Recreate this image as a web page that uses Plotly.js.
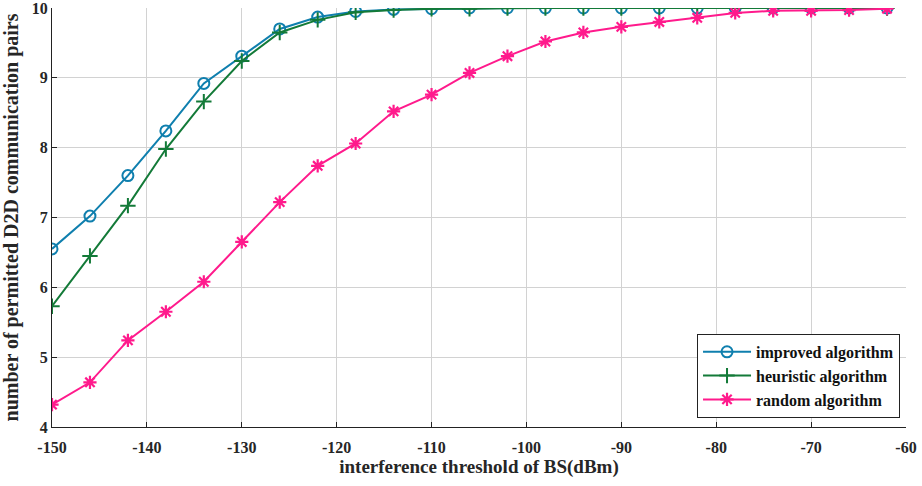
<!DOCTYPE html>
<html>
<head>
<meta charset="utf-8">
<script src="https://cdn.plot.ly/plotly-3.0.1.min.js"></script>
<style>html,body{margin:0;padding:0;background:#fff;}#chart{width:922px;height:486px;}</style>
</head>
<body>
<div id="chart"></div>
<script>
const thresholds = [-150,-146,-142,-138,-134,-130,-126,-122,-118,-114,-110,-106,-102,-98,-94,-90,-86,-82,-78,-74,-70,-66,-62];
const improved  = [6.55,7.02,7.60,8.24,8.92,9.31,9.70,9.87,9.95,9.98,9.99,10.0,10.0,10.0,10.0,10.0,10.0,10.0,10.0,10.0,10.0,10.0,10.0];
const heuristic = [5.73,6.45,7.17,7.98,8.66,9.24,9.65,9.83,9.94,9.97,9.99,9.99,10.0,10.0,10.0,10.0,10.0,10.0,10.0,10.0,10.0,10.0,10.0];
const random    = [4.32,4.64,5.24,5.65,6.08,6.65,7.22,7.74,8.06,8.52,8.76,9.07,9.31,9.52,9.65,9.73,9.80,9.86,9.93,9.96,9.96,9.97,9.99];
const seriesNames = ['improved algorithm','heuristic algorithm','random algorithm'];
const xTickVals = [-150,-140,-130,-120,-110,-100,-90,-80,-70,-60];
const xTickText = ['-150','-140','-130','-120','-110','-100','-90','-80','-70','-60'];
const yTickVals = [4,5,6,7,8,9,10];
const yTickText = ['4','5','6','7','8','9','10'];
const xTitle = 'interference threshold of BS(dBm)';
const yTitle = 'number of permitted D2D communication pairs';

const blue = '#0f7fae', green = '#137a38', pink = '#ff1a8c';
const serif = 'Liberation Serif, Times New Roman, serif';

const traces = [
  {x: thresholds, y: improved, name: seriesNames[0], mode: 'lines+markers',
   line: {color: blue, width: 2},
   marker: {symbol: 'circle-open', size: 11, color: blue, line: {color: blue, width: 2}}},
  {x: thresholds, y: heuristic, name: seriesNames[1], mode: 'lines+markers',
   line: {color: green, width: 2},
   marker: {symbol: 'cross-thin-open', size: 11, color: green, line: {color: green, width: 2}}},
  {x: thresholds, y: random, name: seriesNames[2], mode: 'lines+markers',
   line: {color: pink, width: 2},
   marker: {symbol: 'asterisk-open', size: 11, color: pink, line: {color: pink, width: 2.2}}}
];

const axisCommon = {
  showgrid: true, gridcolor: '#d2d2d2', gridwidth: 1,
  zeroline: false, showline: true, linecolor: '#222', linewidth: 1,
  ticks: 'inside', ticklen: 5, tickcolor: '#222', tickwidth: 1,
  ticklabeloverflow: 'allow', tickmode: 'array',
  tickfont: {family: serif, size: 16, color: '#262626', weight: 'bold'}
};

const layout = {
  width: 922, height: 486,
  margin: {l: 52, r: 16, t: 8, b: 59},
  paper_bgcolor: '#fff', plot_bgcolor: '#fff',
  showlegend: true,
  legend: {
    x: 0.993, y: 0.122, xanchor: 'right', yanchor: 'middle',
    bgcolor: '#fff', bordercolor: '#222', borderwidth: 1,
    font: {family: serif, size: 16, color: '#111', weight: 'bold'},
    tracegroupgap: 0, itemwidth: 48
  },
  xaxis: Object.assign({}, axisCommon, {
    range: [-150, -60], tickvals: xTickVals, ticktext: xTickText,
    ticklabelstandoff: 6,
    title: {text: xTitle, standoff: 2, font: {family: serif, size: 19, color: '#262626', weight: 'bold'}}
  }),
  yaxis: Object.assign({}, axisCommon, {
    range: [4, 10], tickvals: yTickVals, ticktext: yTickText,
    title: {text: yTitle, standoff: 9, font: {family: serif, size: 20, color: '#262626', weight: 'bold'}}
  })
};

Plotly.newPlot('chart', traces, layout, {displayModeBar: false, staticPlot: true});
</script>
</body>
</html>
